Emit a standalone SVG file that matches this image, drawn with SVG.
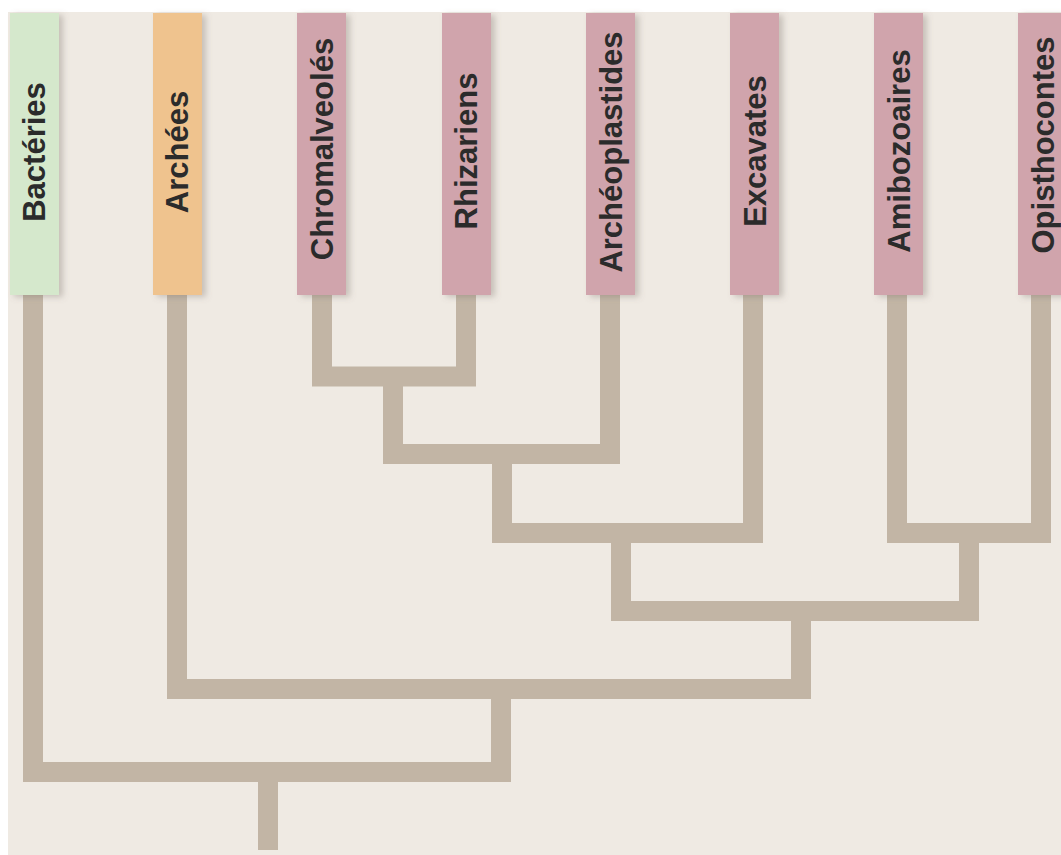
<svg xmlns="http://www.w3.org/2000/svg" width="1061" height="855" viewBox="0 0 1061 855">
  <defs>
    <filter id="sh" x="-30%" y="-10%" width="160%" height="120%">
      <feDropShadow dx="4" dy="2" stdDeviation="3" flood-color="#7a6f66" flood-opacity="0.35"/>
    </filter>
    <style>
      .box { filter: url(#sh); }
      .g { fill: #d5e8cc; }
      .o { fill: #efc38e; }
      .p { fill: #d0a4ac; }
      .lbl { font-family: "Liberation Sans", Arial, sans-serif; font-weight: bold; font-size: 31px; fill: #2b2b2b; text-anchor: middle; }
      .ln { fill: none; stroke: #c2b5a5; stroke-width: 20; stroke-linecap: butt; stroke-linejoin: miter; }
    </style>
  </defs>
  <rect x="0" y="0" width="1061" height="855" fill="#ffffff"/>
  <rect x="8" y="12" width="1053" height="843" fill="#efeae3"/>

  <g id="connectors">
    <path class="ln" d="M322 295 V376.5 H466 V295"/>
    <path class="ln" d="M393 376 V454 H610 V295"/>
    <path class="ln" d="M502 454 V533 H753 V295"/>
    <path class="ln" d="M897 295 V533 H1041 V295"/>
    <path class="ln" d="M621 533 V611 H969 V533"/>
    <path class="ln" d="M177 295 V689 H801 V611"/>
    <path class="ln" d="M33 295 V772 H501 V689"/>
    <path class="ln" d="M268 772 V850"/>
  </g>

  <g id="bacteries">
    <rect class="box g" x="10" y="13" width="49" height="282"/>
    <text class="lbl" transform="translate(45 152) rotate(-90)">Bactéries</text>
  </g>
  <g id="archees">
    <rect class="box o" x="153" y="13" width="49" height="282"/>
    <text class="lbl" transform="translate(188 152) rotate(-90)">Archées</text>
  </g>
  <g id="chromalveoles">
    <rect class="box p" x="297" y="13" width="49" height="282"/>
    <text class="lbl" transform="translate(333 149) rotate(-90)">Chromalveolés</text>
  </g>
  <g id="rhizariens">
    <rect class="box p" x="442" y="13" width="49" height="282"/>
    <text class="lbl" transform="translate(477 151) rotate(-90)">Rhizariens</text>
  </g>
  <g id="archeoplastides">
    <rect class="box p" x="586" y="13" width="49" height="282"/>
    <text class="lbl" transform="translate(622 152) rotate(-90)">Archéoplastides</text>
  </g>
  <g id="excavates">
    <rect class="box p" x="730" y="13" width="49" height="282"/>
    <text class="lbl" transform="translate(766 151) rotate(-90)">Excavates</text>
  </g>
  <g id="amibozoaires">
    <rect class="box p" x="874" y="13" width="49" height="282"/>
    <text class="lbl" transform="translate(910 151) rotate(-90)">Amibozoaires</text>
  </g>
  <g id="opisthocontes">
    <rect class="box p" x="1018" y="13" width="49" height="282"/>
    <text class="lbl" transform="translate(1054 145) rotate(-90)">Opisthocontes</text>
  </g>
</svg>
